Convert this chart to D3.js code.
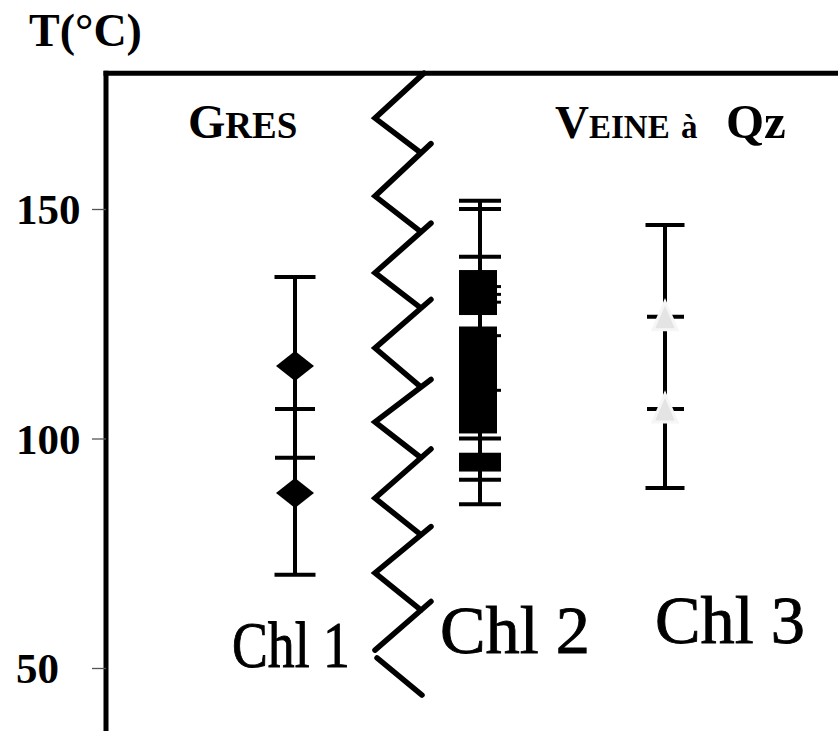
<!DOCTYPE html>
<html>
<head>
<meta charset="utf-8">
<script src="https://cdn.jsdelivr.net/npm/d3@7"></script>
<style>
  html, body { margin: 0; padding: 0; background: #fff; }
  svg { display: block; }
</style>
</head>
<body>
<svg id="chart" width="838" height="731"></svg>
<script>
// Temperature estimates (°C) for the three chlorite groups
const groups = ["Chl 1", "Chl 2", "Chl 3"];
const yTicks = [50, 100, 150];

// Chl 1 (grès): range, diamond markers, intermediate ticks
const chl1Range = [70.3, 135.2];
const chl1Diamonds = [115.8, 88.1];
const chl1Ticks = [106.4, 95.8];

// Chl 2: range, individual ticks, dense clusters of square markers, short marks
const chl2Range = [85.7, 151.8];
const chl2Ticks = [151.8, 150.0, 139.6, 100.0, 91.0, 85.7];
const chl2Blocks = [[126.9, 136.7], [101.1, 124.4], [92.8, 96.9]];
const chl2Stubs = [133.1, 131.4, 129.7, 122.4, 110.5];

// Chl 3 (veine à quartz): range and triangle markers
const chl3Range = [89.2, 146.5];
const chl3Triangles = [126.5, 106.4];

// Break symbol separating the two settings (vertices in °C)
const breakLeft = [169.8, 152.8, 136.1, 119.7, 103.6, 87.0, 70.7, 53.9];
const breakRight = [162.2, 145.0, 128.4, 111.2, 95.8, 79.0, 62.6];
const breakTail = [52.2, 44.1];
const yTop = 179.6;

const svg = d3.select("#chart");
const serif = "'Liberation Serif', 'DejaVu Serif', serif";

const y = d3.scaleLinear().domain([50, 150]).range([668, 209]);
const x = d3.scalePoint().domain(groups).range([295, 665]);

const axisX = 106;

// Frame: left axis and top border
svg.append("line")
  .attr("x1", axisX).attr("x2", axisX)
  .attr("y1", y(yTop) - 2.5).attr("y2", 731)
  .attr("stroke", "#000").attr("stroke-width", 5);
svg.append("line")
  .attr("x1", axisX - 2.5).attr("x2", 838)
  .attr("y1", y(yTop)).attr("y2", y(yTop))
  .attr("stroke", "#000").attr("stroke-width", 5);

// Y axis ticks and labels
const gAxis = svg.append("g")
  .attr("transform", `translate(${axisX},0)`)
  .call(d3.axisLeft(y).tickValues(yTicks).tickSize(14).tickFormat(d3.format("d")));
gAxis.attr("font-size", null).attr("font-family", null);
gAxis.select(".domain").remove();
gAxis.selectAll(".tick line").attr("stroke", "#555").attr("stroke-width", 1.3);
gAxis.selectAll(".tick text")
  .attr("text-anchor", "start")
  .attr("x", 16 - axisX)
  .attr("dy", "0.34em")
  .attr("fill", "#000")
  .style("font-family", serif)
  .style("font-weight", "bold")
  .style("font-size", "43px");

// Axis title
svg.append("text")
  .attr("x", 29).attr("y", 46)
  .attr("font-family", serif).attr("font-weight", "bold").attr("font-size", 46)
  .text("T(°C)");

// Setting labels in small capitals
const gres = svg.append("text").attr("y", 138)
  .attr("font-family", serif).attr("font-weight", "bold");
gres.append("tspan").attr("x", 188).attr("font-size", 48).text("G");
gres.append("tspan").attr("font-size", 37).text("RES");

const veine = svg.append("text").attr("y", 138)
  .attr("font-family", serif).attr("font-weight", "bold");
veine.append("tspan").attr("x", 555).attr("font-size", 47).text("V");
veine.append("tspan").attr("font-size", 33).text("EINE");
veine.append("tspan").attr("x", 681).attr("font-size", 33).text("à");
veine.append("tspan").attr("x", 726).attr("font-size", 49).text("Qz");

// Group labels
const labelPos = { "Chl 1": [232, 667, 118], "Chl 2": [440, 653, 150], "Chl 3": [655, 643, 150] };
const labelSize = { "Chl 1": 65, "Chl 2": 68, "Chl 3": 68 };
svg.selectAll("text.group")
  .data(groups)
  .join("text")
  .attr("class", "group")
  .attr("x", d => labelPos[d][0])
  .attr("y", d => labelPos[d][1])
  .attr("textLength", d => labelPos[d][2])
  .attr("lengthAdjust", "spacingAndGlyphs")
  .attr("font-family", serif)
  .attr("font-size", d => labelSize[d])
  .attr("stroke", "#000")
  .attr("stroke-width", 0.9)
  .text(d => d);

// Break symbol
const xl = 375, xr = 421;
let p = `M${xr + 3},${y(yTop)} L${xl},${y(breakLeft[0])}`;
breakRight.forEach((v, i) => {
  const yr = y(v), yl = y(breakLeft[i + 1]);
  p += ` L${xr},${yr}`;
  const slope = (yr - yl) / (xr - xl);
  p += ` M${xr + 10},${yr + 10 * slope} L${xl},${yl}`;
});
p += ` M${xl + 2},${y(breakTail[0])} L${xr + 1},${y(breakTail[1])}`;
svg.append("path")
  .attr("d", p)
  .attr("fill", "none")
  .attr("stroke", "#000")
  .attr("stroke-width", 5.5)
  .attr("stroke-linejoin", "miter")
  .attr("stroke-linecap", "round");

const ink = "#000";
function whisker(g, cx, range, capHalf) {
  g.append("line")
    .attr("x1", cx).attr("x2", cx)
    .attr("y1", y(range[1])).attr("y2", y(range[0]))
    .attr("stroke", ink).attr("stroke-width", 4);
  g.selectAll("line.cap")
    .data(range)
    .join("line")
    .attr("class", "cap")
    .attr("x1", cx - capHalf).attr("x2", cx + capHalf)
    .attr("y1", d => y(d)).attr("y2", d => y(d))
    .attr("stroke", ink).attr("stroke-width", 4);
}

// Chl 1
const c1 = x("Chl 1");
const g1 = svg.append("g");
whisker(g1, c1, chl1Range, 20.5);
g1.selectAll("line.tick")
  .data(chl1Ticks)
  .join("line")
  .attr("class", "tick")
  .attr("x1", c1 - 20).attr("x2", c1 + 20)
  .attr("y1", d => y(d)).attr("y2", d => y(d))
  .attr("stroke", ink).attr("stroke-width", 4);
g1.selectAll("path.diamond")
  .data(chl1Diamonds)
  .join("path")
  .attr("class", "diamond")
  .attr("d", d => `M${c1},${y(d) - 15} L${c1 + 19},${y(d)} L${c1},${y(d) + 15} L${c1 - 19},${y(d)} Z`)
  .attr("fill", ink);

// Chl 2
const c2 = x("Chl 2");
const g2 = svg.append("g");
g2.append("line")
  .attr("x1", c2).attr("x2", c2)
  .attr("y1", y(chl2Range[1])).attr("y2", y(chl2Range[0]))
  .attr("stroke", ink).attr("stroke-width", 4);
g2.selectAll("line.tick")
  .data(chl2Ticks)
  .join("line")
  .attr("class", "tick")
  .attr("x1", c2 - 21).attr("x2", c2 + 21)
  .attr("y1", d => y(d)).attr("y2", d => y(d))
  .attr("stroke", ink).attr("stroke-width", 4);
g2.selectAll("rect.block")
  .data(chl2Blocks)
  .join("rect")
  .attr("class", "block")
  .attr("x", c2 - 21)
  .attr("width", (d, i) => i === 2 ? 42 : 38)
  .attr("y", d => y(d[1]))
  .attr("height", d => y(d[0]) - y(d[1]))
  .attr("fill", ink);
g2.selectAll("line.stub")
  .data(chl2Stubs)
  .join("line")
  .attr("class", "stub")
  .attr("x1", c2 + 14).attr("x2", c2 + 21)
  .attr("y1", d => y(d)).attr("y2", d => y(d))
  .attr("stroke", ink).attr("stroke-width", 3);

// Chl 3
const c3 = x("Chl 3");
const g3 = svg.append("g");
whisker(g3, c3, chl3Range, 19.5);
g3.selectAll("line.tick")
  .data(chl3Triangles)
  .join("line")
  .attr("class", "tick")
  .attr("x1", c3 - 18).attr("x2", c3 + 19)
  .attr("y1", d => y(d)).attr("y2", d => y(d))
  .attr("stroke", ink).attr("stroke-width", 4);
g3.selectAll("path.tri")
  .data(chl3Triangles)
  .join("path")
  .attr("class", "tri")
  .attr("d", d => `M${c3},${y(d) - 15} L${c3 + 12},${y(d) + 13} L${c3 - 12},${y(d) + 13} Z`)
  .attr("fill", "#e4e4e4")
  .attr("stroke", "#f6f6f6")
  .attr("stroke-width", 3);
</script>
</body>
</html>
